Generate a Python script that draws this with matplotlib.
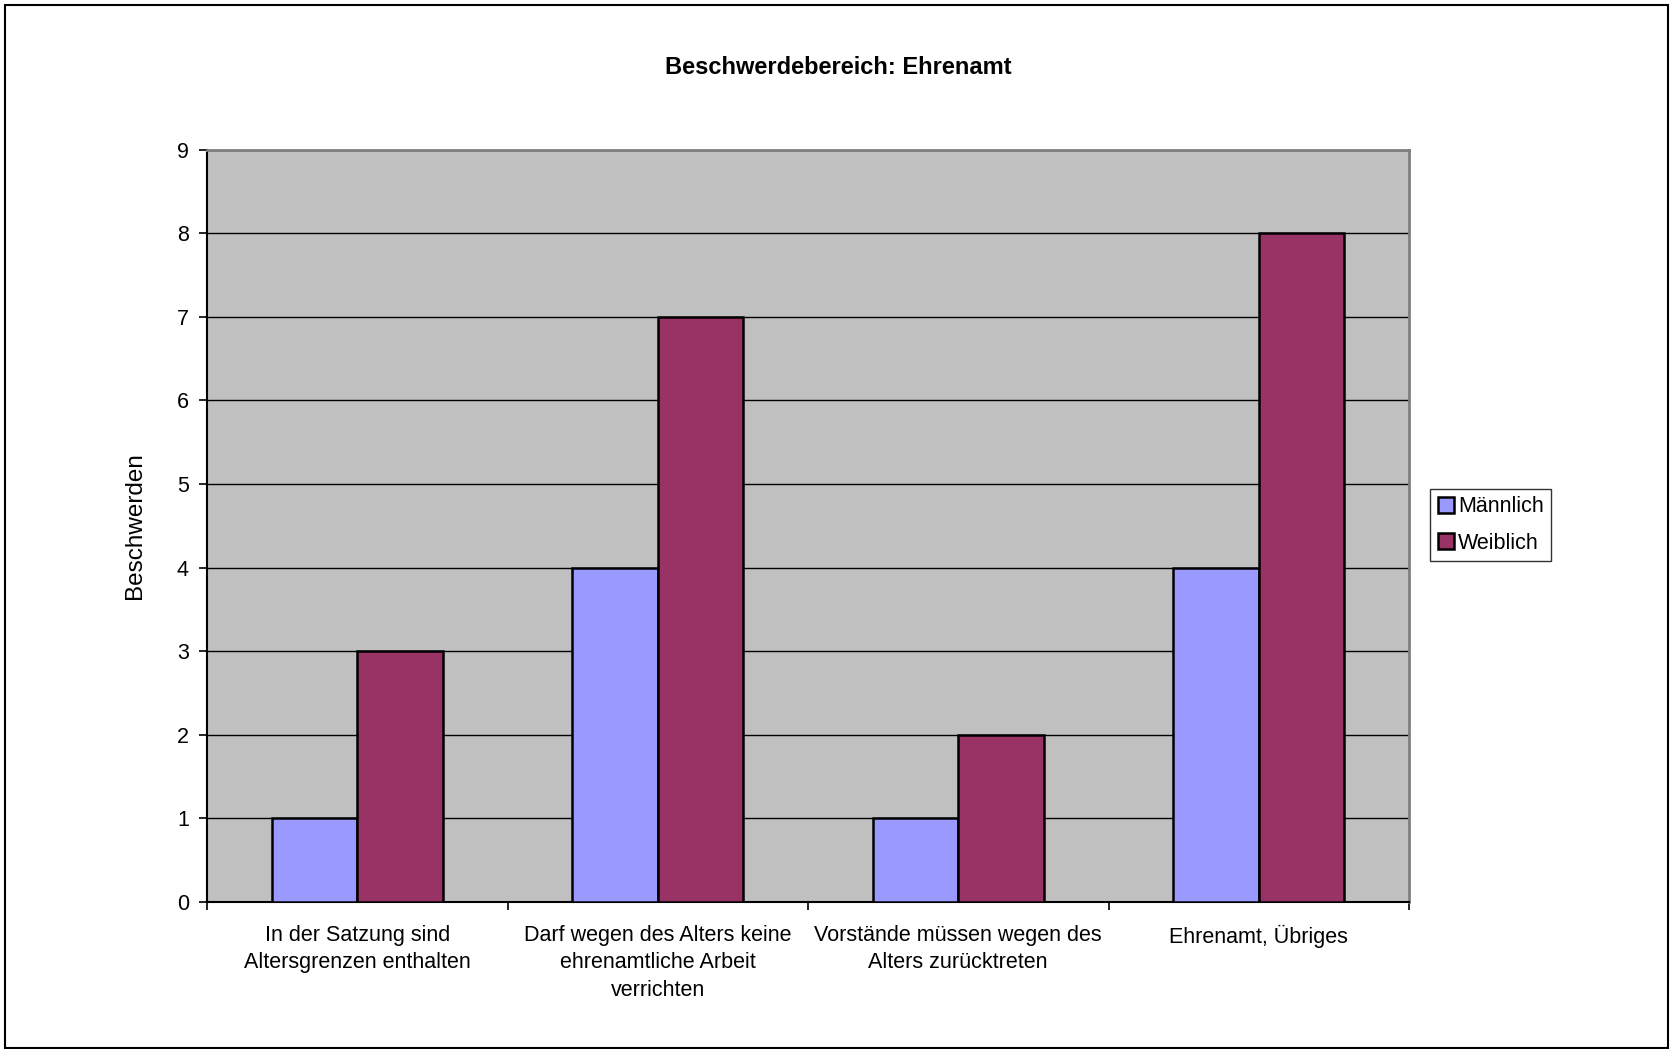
import numpy as np
import matplotlib.pyplot as plt
from matplotlib.patches import Rectangle

plt.rcParams['font.family'] = ['Liberation Sans', 'DejaVu Sans']

# Daten
kategorien = ['In der Satzung sind\nAltersgrenzen enthalten',
              'Darf wegen des Alters keine\nehrenamtliche Arbeit\nverrichten',
              'Vorstände müssen wegen des\nAlters zurücktreten',
              'Ehrenamt, Übriges']
maennlich = [1, 4, 1, 4]
weiblich = [3, 7, 2, 8]

W, H = 1670, 1049
fig = plt.figure(figsize=(W / 100, H / 100), dpi=100)

# Rahmen um das ganze Diagramm
fig.patches.append(Rectangle((5 / W, 1 / H), (W - 7) / W, (H - 6) / H,
                             transform=fig.transFigure, fill=False,
                             edgecolor='black', linewidth=1.5))

left, right, top, bottom = 207, 1409, 149.5, 902
ax = fig.add_axes([left / W, (H - bottom) / H, (right - left) / W, (bottom - top) / H])
ax.set_facecolor('#C0C0C0')

x = np.arange(len(kategorien))
bw = 0.285
ax.bar(x - bw / 2, maennlich, bw, color='#9999FF', edgecolor='black', linewidth=1.8,
       label='Männlich', zorder=3)
ax.bar(x + bw / 2, weiblich, bw, color='#993366', edgecolor='black', linewidth=1.8,
       label='Weiblich', zorder=3)

ax.set_xlim(-0.5, len(kategorien) - 0.5)
ax.set_ylim(0, 9)
ax.set_yticks(range(10))
ax.yaxis.grid(True, color='black', linewidth=1.0, zorder=1)
ax.set_axisbelow(True)

# Achsen wie in Excel
for s in ['top', 'right']:
    ax.spines[s].set_color('#808080')
    ax.spines[s].set_linewidth(2)
ax.spines['left'].set_linewidth(1.5)
ax.spines['bottom'].set_linewidth(1.5)

ax.set_xticks(np.arange(-0.5, len(kategorien)), minor=False)
ax.set_xticklabels([])
ax.tick_params(axis='x', length=6, width=1.2, direction='out')
ax.tick_params(axis='y', length=6, width=1.2, labelsize=15.5, pad=7)
for i, k in enumerate(kategorien):
    ax.text(i, -0.27, k, ha='center', va='top', fontsize=15.5, linespacing=1.42)

ax.set_ylabel('Beschwerden', fontsize=17.5, labelpad=22)
fig.text(838 / W, 1 - 68 / H, 'Beschwerdebereich: Ehrenamt', ha='center', va='center',
         fontsize=17, fontweight='bold')

leg = ax.legend(loc='center left', bbox_to_anchor=(1430 / W, 1 - 525 / H),
                bbox_transform=fig.transFigure, fontsize=15.5, frameon=True, fancybox=False,
                handlelength=0.75, handleheight=0.75, handletextpad=0.2,
                borderpad=0.35, labelspacing=0.7, borderaxespad=0)
leg.get_frame().set_edgecolor('black')
leg.get_frame().set_linewidth(1.0)

fig.savefig('out.png', dpi=100)
